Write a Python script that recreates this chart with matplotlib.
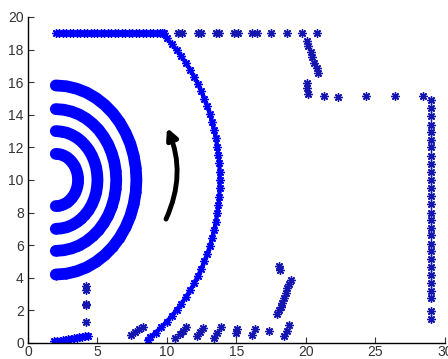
import matplotlib
matplotlib.use("Agg")
import matplotlib.pyplot as plt
from matplotlib.ticker import FixedLocator

# ---------------- data ----------------
wave1_x = [2.0, 2.21, 2.41, 2.61, 2.8, 2.97, 3.13, 3.27, 3.39, 3.48, 3.55, 3.59, 3.6,
           3.59, 3.55, 3.48, 3.39, 3.27, 3.13, 2.97, 2.8, 2.61, 2.41, 2.21, 2.0]
wave1_y = [11.6, 11.59, 11.55, 11.48, 11.39, 11.27, 11.13, 10.97, 10.8, 10.61, 10.41, 10.21, 10.0,
           9.79, 9.59, 9.39, 9.2, 9.03, 8.87, 8.73, 8.61, 8.52, 8.45, 8.41, 8.4]

wave2_x = [2.0, 2.39, 2.78, 3.15, 3.5, 3.83, 4.12, 4.38, 4.6, 4.77, 4.9, 4.97, 5.0,
           4.97, 4.9, 4.77, 4.6, 4.38, 4.12, 3.83, 3.5, 3.15, 2.78, 2.39, 2.0]
wave2_y = [13.0, 12.97, 12.9, 12.77, 12.6, 12.38, 12.12, 11.83, 11.5, 11.15, 10.78, 10.39, 10.0,
           9.61, 9.22, 8.85, 8.5, 8.17, 7.88, 7.62, 7.4, 7.23, 7.1, 7.03, 7.0]

wave3_x = [2.0, 2.57, 3.13, 3.67, 4.18, 4.65, 5.08, 5.45, 5.77, 6.02, 6.2, 6.31, 6.35,
           6.31, 6.2, 6.02, 5.77, 5.45, 5.08, 4.65, 4.18, 3.67, 3.13, 2.57, 2.0]
wave3_y = [14.35, 14.31, 14.2, 14.02, 13.77, 13.45, 13.08, 12.65, 12.18, 11.66, 11.13, 10.57, 10.0,
           9.43, 8.87, 8.34, 7.82, 7.35, 6.92, 6.55, 6.23, 5.98, 5.8, 5.69, 5.65]

wave4_x = [2.0, 2.76, 3.5, 4.22, 4.9, 5.53, 6.1, 6.6, 7.02, 7.36, 7.6, 7.75, 7.8,
           7.75, 7.6, 7.36, 7.02, 6.6, 6.1, 5.53, 4.9, 4.22, 3.5, 2.76, 2.0]
wave4_y = [15.8, 15.75, 15.6, 15.36, 15.02, 14.6, 14.1, 13.53, 12.9, 12.22, 11.5, 10.76, 10.0,
           9.24, 8.5, 7.78, 7.1, 6.47, 5.9, 5.4, 4.98, 4.64, 4.4, 4.25, 4.2]

front_x = [9.63, 9.97, 10.34, 10.70, 11.04, 11.36, 11.67, 11.95, 12.22, 12.47, 12.69,
           12.90, 13.09, 13.25, 13.4, 13.52, 13.62, 13.70, 13.76, 13.79, 13.8,
           13.79, 13.76, 13.70, 13.62, 13.52, 13.4, 13.25, 13.09, 12.90, 12.69,
           12.47, 12.22, 11.95, 11.67, 11.36, 11.04, 10.70, 10.34, 9.97, 9.58,
           9.18, 8.77, 8.6]
front_y = [19.0, 18.70, 18.34, 17.97, 17.58, 17.18, 16.77, 16.34, 15.9, 15.45, 14.99,
           14.52, 14.04, 13.55, 13.05, 12.55, 12.05, 11.54, 11.03, 10.51, 10.0,
           9.49, 8.97, 8.46, 7.95, 7.45, 6.95, 6.45, 5.96, 5.48, 5.01,
           4.55, 4.1, 3.66, 3.23, 2.82, 2.42, 2.03, 1.66, 1.30, 0.96,
           0.64, 0.34, 0.2]

top_dense_x = [2.0, 2.25, 2.5, 2.75, 3.0, 3.25, 3.5, 3.75, 4.0, 4.25, 4.5, 4.75, 5.0,
               5.25, 5.5, 5.75, 6.0, 6.25, 6.5, 6.75, 7.0, 7.25, 7.5, 7.75, 8.0,
               8.25, 8.5, 8.75, 9.0, 9.25, 9.5, 9.75]
top_dense_y = [19.0] * len(top_dense_x)

top_sparse_x = [10.8, 11.05, 12.2, 12.45, 13.5, 13.75, 14.85, 15.1, 16.15, 16.45,
                17.5, 18.6, 19.7, 20.8]
top_sparse_y = [19.0] * len(top_sparse_x)

step_x = [20.05, 20.14, 20.34, 20.46, 20.58, 20.77, 20.89, 20.05, 20.1, 20.17]
step_y = [18.5, 18.2, 17.84, 17.53, 17.2, 16.85, 16.55, 15.97, 15.62, 15.28]

ledge_x = [21.3, 22.3, 24.3, 26.4, 28.4]
ledge_y = [15.17, 15.07, 15.17, 15.17, 15.17]

right_y = [14.9, 14.4, 13.9, 13.4, 12.95, 12.45, 12.0, 11.5, 11.0, 10.5, 10.0, 9.5,
           9.0, 8.5, 8.0, 7.55, 7.05, 6.6, 6.1, 5.65, 5.15, 4.65, 4.15, 3.7, 3.2,
           2.75, 1.95, 1.5]
right_x = [29.0] * len(right_y)

floor_dense_x = [1.9, 2.1, 2.3, 2.5, 2.7, 2.9, 3.1, 3.3, 3.5, 3.7, 3.9, 4.1, 4.3]
floor_dense_y = [0.1, 0.12, 0.15, 0.17, 0.2, 0.22, 0.25, 0.28, 0.31, 0.35, 0.38, 0.42, 0.45]

post_x = [4.15, 4.15, 4.15, 4.15, 4.15]
post_y = [3.5, 3.25, 2.4, 2.3, 1.3]

floor_sparse_x = [7.4, 7.7, 8.0, 8.3, 10.6, 10.9, 11.15, 11.4, 12.15, 12.4, 12.6,
                  13.35, 13.6, 13.9, 14.95, 15.05, 16.1, 16.3, 17.36, 18.45, 18.6, 18.75]
floor_sparse_y = [0.5, 0.7, 0.85, 1.0, 0.3, 0.55, 0.75, 1.0, 0.4, 0.65, 0.9,
                  0.3, 0.6, 1.0, 0.6, 0.85, 0.5, 0.85, 0.74, 0.4, 0.75, 1.1]

ramp_x = [18.06, 18.1, 18.9, 18.78, 18.65, 18.54, 18.42, 18.3, 18.18, 18.06, 17.94]
ramp_y = [4.75, 4.5, 3.87, 3.6, 3.36, 3.05, 2.74, 2.43, 2.23, 2.02, 1.78]

arrow_start = (9.93, 7.6)
arrow_end = (10.0, 13.2)

x_ticks = [0, 5, 10, 15, 20, 25, 30]
y_ticks = [0, 2, 4, 6, 8, 10, 12, 14, 16, 18, 20]

# ---------------- drawing ----------------
plt.rcParams['font.family'] = ['Liberation Sans', 'DejaVu Sans']
fig = plt.figure(figsize=(4.48, 3.59), dpi=100)
ax = fig.add_axes([0.0625, 0.0446, 0.9308, 0.9081])

blue = '#0000ff'
ast = (8, 2, 0)

for wx, wy in [(wave1_x, wave1_y), (wave2_x, wave2_y), (wave3_x, wave3_y), (wave4_x, wave4_y)]:
    ax.plot(wx, wy, '-', lw=8.5, color=blue, solid_capstyle='round',
            marker=ast, markersize=7, markeredgewidth=1.0, markeredgecolor=blue)

dense = dict(marker=ast, markersize=6, markeredgewidth=1.0, color=blue)
ax.plot(front_x, front_y, '-', lw=3, **dense)
ax.plot(top_dense_x, top_dense_y, '-', lw=3.5, **dense)
ax.plot(floor_dense_x, floor_dense_y, '-', lw=3.5, **dense)

sparse = dict(marker=ast, markersize=6, markeredgewidth=1.0, linestyle='none',
              color='#1515b0')
ax.plot(top_sparse_x, top_sparse_y, **sparse)
ax.plot(step_x, step_y, **sparse)
ax.plot(ledge_x, ledge_y, **sparse)
ax.plot(right_x, right_y, **sparse)
ax.plot(post_x, post_y, **sparse)
ax.plot(floor_sparse_x, floor_sparse_y, **sparse)
ax.plot(ramp_x, ramp_y, **sparse)

ax.annotate('', xy=arrow_end, xytext=arrow_start,
            arrowprops=dict(arrowstyle='-|>', connectionstyle='arc3,rad=0.22',
                            lw=3.5, color='black', mutation_scale=16,
                            shrinkA=0, shrinkB=0))

ax.set_xlim(0, 30)
ax.set_ylim(0, 20)
ax.xaxis.set_major_locator(FixedLocator(x_ticks))
ax.yaxis.set_major_locator(FixedLocator(y_ticks))
ax.set_xticklabels([str(t) for t in x_ticks])
ax.set_yticklabels([str(t) for t in y_ticks])
ax.tick_params(direction='in', length=4, width=0.8, labelsize=10, pad=3,
               colors='#333333')
ax.tick_params(axis='x', pad=1.5)
ax.spines['top'].set_visible(False)
ax.spines['right'].set_visible(False)
for s in ('left', 'bottom'):
    ax.spines[s].set_linewidth(1.0)
    ax.spines[s].set_color('black')

fig.savefig('out.png', dpi=100)
